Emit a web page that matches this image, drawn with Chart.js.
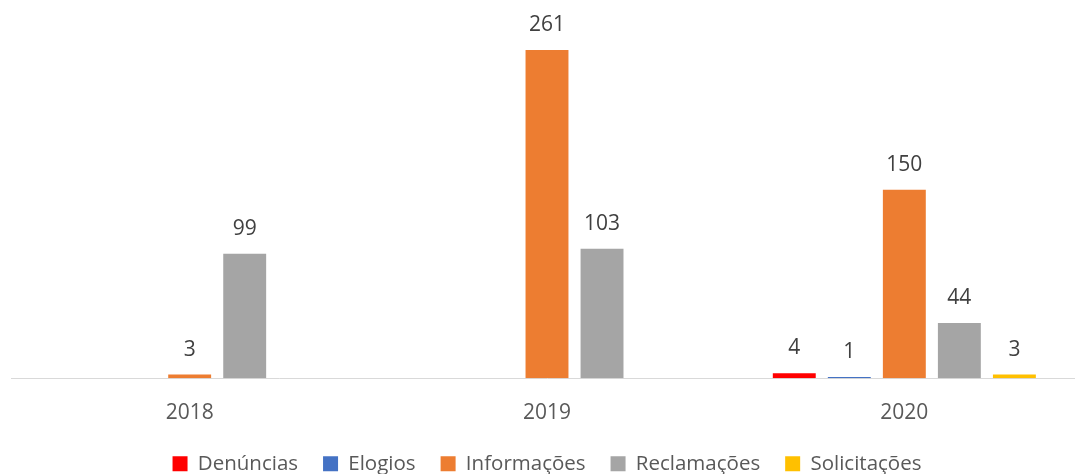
<!DOCTYPE html>
<html>
<head>
<meta charset="utf-8">
<script src="https://cdn.jsdelivr.net/npm/chart.js@4"></script>
<style>
  html, body { margin: 0; padding: 0; background: #fff; overflow: hidden; }
  /* plot area runs slightly past the right edge, as in the reference */
  #wrap { width: 1084px; height: 474px; }
</style>
</head>
<body>
<div id="wrap"><canvas id="chart"></canvas></div>
<script>
// --- DATA ---
const years = ['2018', '2019', '2020'];
const seriesNames = ['Denúncias', 'Elogios', 'Informações', 'Reclamações', 'Solicitações'];
const denuncias = [null, null, 4];
const elogios = [null, null, 1];
const informacoes = [3, 261, 150];
const reclamacoes = [99, 103, 44];
const solicitacoes = [null, null, 3];
const seriesColors = ['#FF0000', '#4472C4', '#ED7D31', '#A5A5A5', '#FFC000'];

const allValues = [denuncias, elogios, informacoes, reclamacoes, solicitacoes];
const FONT = "'Open Sans', 'Liberation Sans', sans-serif";

// value labels above each bar
const valueLabels = {
    id: 'valueLabels',
    afterDatasetsDraw(chart) {
        const ctx = chart.ctx;
        ctx.save();
        ctx.font = '21px ' + FONT;
        ctx.fillStyle = '#404040';
        ctx.textAlign = 'center';
        ctx.textBaseline = 'middle';
        chart.data.datasets.forEach((ds, i) => {
            const meta = chart.getDatasetMeta(i);
            meta.data.forEach((bar, j) => {
                const v = ds.data[j];
                if (v === null || v === undefined) return;
                ctx.fillText(String(v), bar.x, bar.y - 25);
            });
        });
        ctx.restore();
    }
};

new Chart(document.getElementById('chart'), {
    type: 'bar',
    data: {
        labels: years,
        datasets: seriesNames.map((name, i) => ({
            label: name,
            data: allValues[i],
            backgroundColor: seriesColors[i],
            borderWidth: 0,
            barPercentage: 0.78,
            categoryPercentage: 0.77
        }))
    },
    options: {
        responsive: true,
        maintainAspectRatio: false,
        animation: false,
        layout: { padding: { left: 11, right: 1, top: 1, bottom: -10 } },
        scales: {
            x: {
                grid: { display: false },
                border: { color: '#D9D9D9', width: 1 },
                ticks: { color: '#595959', font: { family: FONT, size: 21 }, padding: 14 },
                // pull the axis closer to the legend
                afterFit: (scale) => { scale.height -= 11; }
            },
            y: {
                display: false,
                min: 0,
                max: 300
            }
        },
        plugins: {
            legend: {
                position: 'bottom',
                labels: {
                    color: '#595959',
                    font: { family: FONT, size: 20.5 },
                    boxWidth: 15,
                    boxHeight: 15,
                    padding: 25
                }
            },
            tooltip: { enabled: false }
        }
    },
    plugins: [valueLabels]
});
</script>
</body>
</html>
